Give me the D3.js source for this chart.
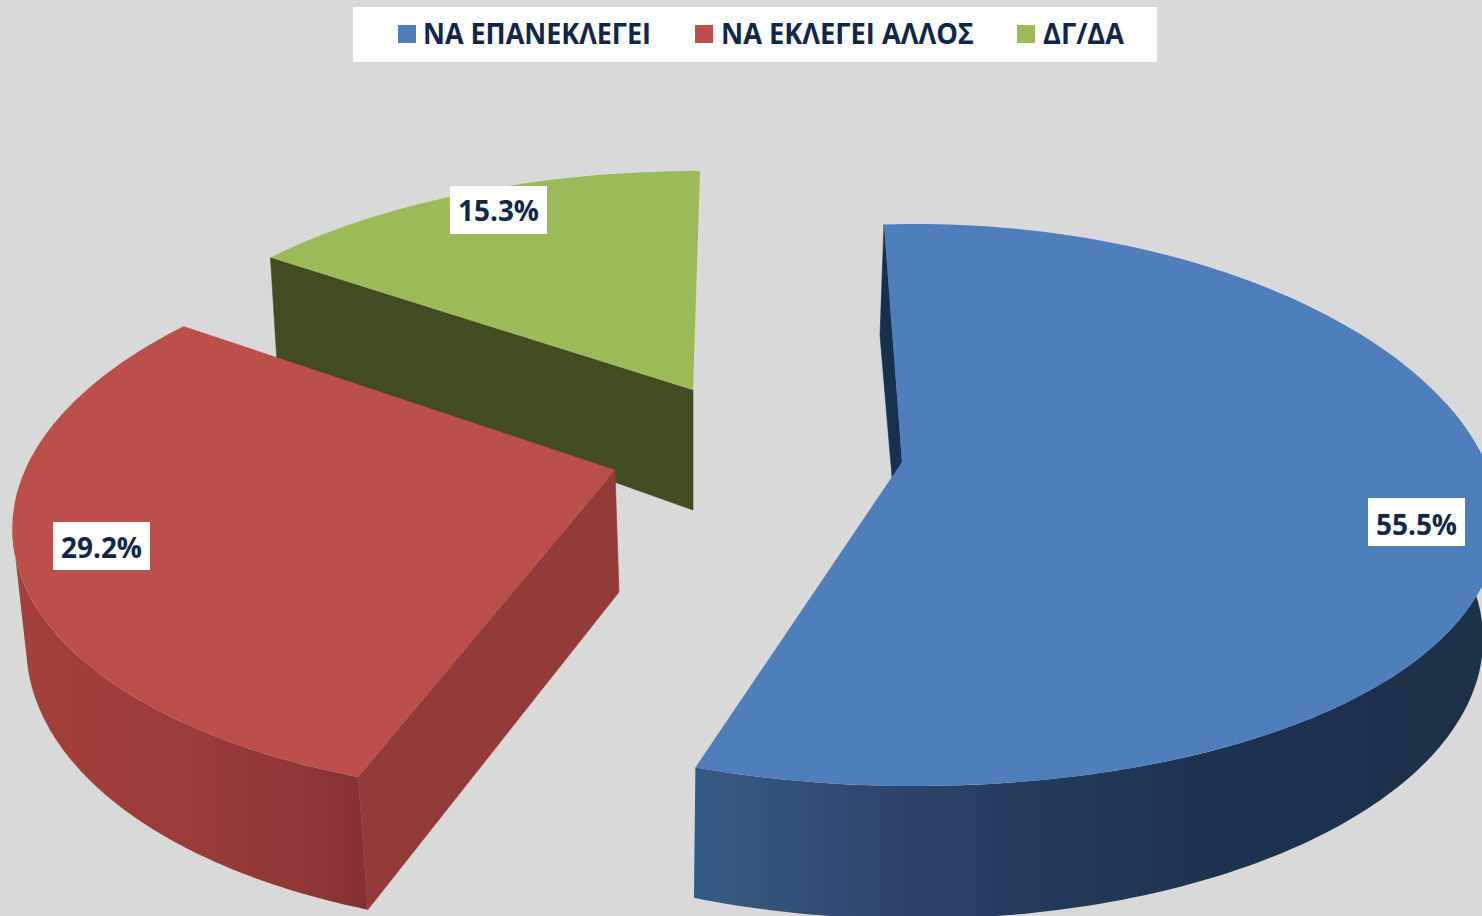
<!DOCTYPE html>
<html lang="el">
<head>
<meta charset="utf-8">
<title>Pie</title>
<script src="https://cdn.jsdelivr.net/npm/d3@7"></script>
<style>
html,body{margin:0;padding:0;background:#d9d9d9;overflow:hidden}
svg{display:block}
text{font-family:"Open Sans","Noto Sans",sans-serif;font-weight:700;fill:#10264a}
</style>
</head>
<body>
<svg id="c" width="1482" height="916"></svg>
<script>
// ---- data ----
const categories = ["ΝΑ ΕΠΑΝΕΚΛΕΓΕΙ", "ΝΑ ΕΚΛΕΓΕΙ ΑΛΛΟΣ", "ΔΓ/ΔΑ"];
const values = [55.5, 29.2, 15.3];

// ---- styles ----
const faceColors = ["#4e7fbb", "#bd4f4b", "#9abb58"];
const sideColors = ["#16304f", "#923b37", "#414c20"];
const W = 1482, H = 916;

// ---- layout of the drawing: perspective ellipse of each exploded slice ----
const geometry = [
  { apex:[902,462], apexLow:[902,595],
    top:{cx:915,cy:505,rx:582,ry:281,sh:0,e:.06,t0:-.0567,t1:3.507},
    low:{cx:905,cy:635,rx:578,ry:284,sh:.03,e:0,t0:1.2,t1:3.53},
    wall:[1.2,3.507], wallGrad:[[693,"#2f5a88"],[715,"#365a82"],[850,"#2e4a6e"],[1000,"#253d60"],[1200,"#1e3350"],[1482,"#1c3049"]],
    cutLow:[880,335] },
  { apex:[615,470], apexLow:[619,592],
    top:{cx:603,cy:515,rx:590,ry:282,sh:-.1,e:0,t0:3.521,t1:5.446},
    low:{cx:605,cy:630,rx:578,ry:300,sh:-.1,e:0,t0:3.512,t1:4.612},
    wall:[3.521,4.659], wallGrad:[[14,"#a5403c"],[200,"#9a3c38"],[320,"#8f3635"],[362,"#853030"]],
    cutLow:null },
  { apex:[693,390], apexLow:[693,510],
    top:{cx:700,cy:435,rx:580,ry:264,sh:0,e:0,t0:-.834,t1:0},
    low:null, wall:null, wallGrad:null,
    cutLow:[277,362] }
];
const legendLayout = [
  {sx:398, tx:423, tw:228},
  {sx:695, tx:721, tw:253},
  {sx:1017, tx:1043, tw:81}
];
const labelBoxes = [
  {x:1368, y:498, base:535},
  {x:53, y:522, base:558},
  {x:450, y:186, base:221}
];

const svg = d3.select("#c");
svg.append("rect").attr("width",W).attr("height",H).attr("fill","#d9d9d9");

const pie = d3.pie().sort(null).startAngle(0).endAngle(2*Math.PI);
const arcs = pie(values);
const line = d3.line();
const rim = c => t => [
  c.cx + c.rx*Math.sin(t)*(1 - c.e*Math.cos(t)) - c.sh*c.ry*Math.cos(t),
  c.cy - c.ry*Math.cos(t)
];
const defs = svg.append("defs");

// draw back to front: green, red, blue
const order = [2,1,0];
order.forEach(i => {
  const g = geometry[i], a = arcs[i];
  const toT = d3.scaleLinear().domain([a.startAngle,a.endAngle]).range([g.top.t0,g.top.t1]);
  const layer = svg.append("g");
  const topRim = rim(g.top);
  let cutLow = g.cutLow;

  // outer curved wall
  if (g.low) {
    const id = "wall"+i;
    const x0 = g.wallGrad[0][0], x1 = g.wallGrad[g.wallGrad.length-1][0];
    const grad = defs.append("linearGradient").attr("id",id).attr("gradientUnits","userSpaceOnUse")
      .attr("x1",x0).attr("x2",x1).attr("y1",0).attr("y2",0);
    g.wallGrad.forEach(s => grad.append("stop").attr("offset",(s[0]-x0)/(x1-x0)).attr("stop-color",s[1]));
    const lowRim = rim(g.low);
    if (!cutLow) cutLow = lowRim(g.low.t0);
    const topPts = d3.range(0,121).map(k => topRim(g.wall[0]+(g.wall[1]-g.wall[0])*k/120));
    const lowPts = d3.range(0,121).map(k => lowRim(g.low.t0+(g.low.t1-g.low.t0)*k/120));
    layer.append("path").attr("d",line(topPts.concat(lowPts.reverse()))+"Z").attr("fill",`url(#${id})`);
  }

  // radial cut wall
  const startPt = topRim(toT(a.startAngle));
  layer.append("path")
    .attr("d",line([startPt,g.apex,g.apexLow,cutLow])+"Z")
    .attr("fill",sideColors[i])
    .attr("stroke",sideColors[i]).attr("stroke-width",.6);

  // top face, sampled along the pie angle
  const pts = d3.range(0,181).map(k => topRim(toT(a.startAngle+(a.endAngle-a.startAngle)*k/180)));
  layer.append("path").attr("d",line([g.apex].concat(pts))+"Z").attr("fill",faceColors[i]);
});

// labels
values.forEach((v,i) => {
  const b = labelBoxes[i];
  svg.append("rect").attr("x",b.x).attr("y",b.y).attr("width",97).attr("height",48).attr("fill","#fff");
  svg.append("text").attr("x",b.x+48.5).attr("y",b.base).attr("text-anchor","middle")
    .attr("font-size",28).attr("textLength",81).attr("lengthAdjust","spacingAndGlyphs")
    .text(d3.format(".1f")(v)+"%");
});

// legend
svg.append("rect").attr("x",353).attr("y",7).attr("width",804).attr("height",55).attr("fill","#fff");
categories.forEach((c,i) => {
  const l = legendLayout[i];
  svg.append("rect").attr("x",l.sx).attr("y",25).attr("width",18).attr("height",18).attr("fill",faceColors[i]);
  svg.append("text").attr("x",l.tx).attr("y",44).attr("font-size",28)
    .attr("textLength",l.tw).attr("lengthAdjust","spacingAndGlyphs").text(c);
});
</script>
</body>
</html>
